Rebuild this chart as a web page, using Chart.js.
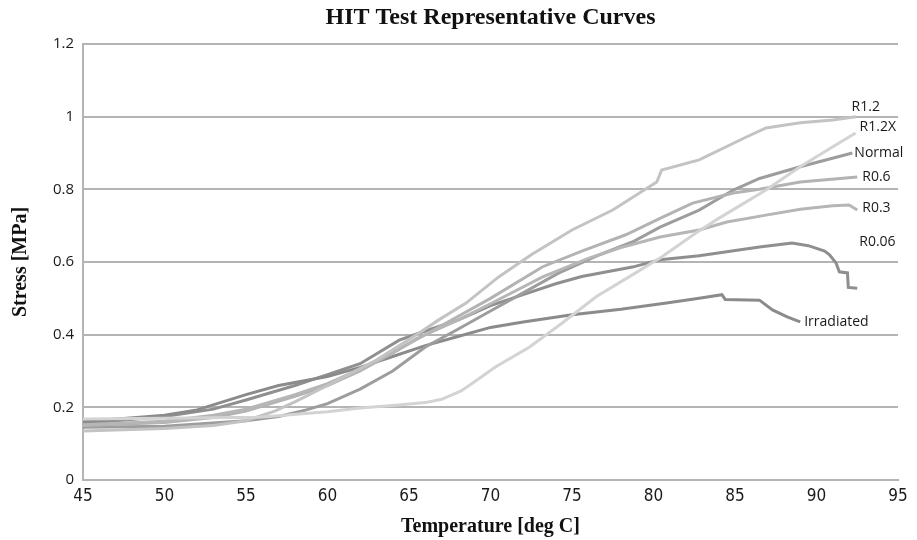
<!DOCTYPE html>
<html>
<head>
<meta charset="utf-8">
<title>HIT Test Representative Curves</title>
<script src="https://cdn.jsdelivr.net/npm/chart.js@4.4.1/dist/chart.umd.min.js"></script>
<style>
  html, body { margin: 0; padding: 0; background: #fff; }
  #wrap { width: 917px; height: 540px; position: relative; }
</style>
</head>
<body>
<div id="wrap"><canvas id="hitChart" width="917" height="540"></canvas></div>
<script>
// ---- data (temperature in deg C, stress in MPa) ----
const r12Temp   = [45, 50, 53, 55, 56.8, 58, 60, 63, 65.6, 66.8, 68.5, 70.5, 72.5, 75, 77.5, 80.2, 80.5, 82.8, 85.7, 86.9, 89, 91, 92.4];
const r12Stress = [0.135, 0.142, 0.15, 0.163, 0.19, 0.215, 0.26, 0.33, 0.404, 0.44, 0.487, 0.559, 0.62, 0.688, 0.743, 0.82, 0.853, 0.881, 0.944, 0.969, 0.983, 0.991, 1.0];

const r12xTemp   = [45, 50, 55.8, 60, 62, 64, 66, 67, 68.2, 69, 70.3, 72.4, 74.4, 76.5, 78.5, 80.5, 82.6, 84, 86.9, 89, 91, 92.4];
const r12xStress = [0.168, 0.17, 0.173, 0.188, 0.198, 0.205, 0.213, 0.222, 0.245, 0.27, 0.311, 0.366, 0.432, 0.505, 0.559, 0.614, 0.68, 0.72, 0.798, 0.862, 0.917, 0.955];

const normalTemp   = [45, 50, 55, 57, 58.7, 60, 62, 64, 66, 68, 70, 72, 74.2, 76.7, 78.7, 80.4, 82.8, 84.9, 86.5, 89, 92.2];
const normalStress = [0.145, 0.148, 0.163, 0.175, 0.193, 0.21, 0.25, 0.3, 0.366, 0.415, 0.465, 0.515, 0.57, 0.62, 0.655, 0.696, 0.743, 0.798, 0.83, 0.862, 0.9];

const r06Temp   = [45, 50, 53, 55, 58, 60, 62, 64, 65.6, 68, 70, 73.2, 75.6, 78.3, 80.4, 82.4, 84.9, 86.5, 89, 92.5];
const r06Stress = [0.15, 0.158, 0.172, 0.19, 0.23, 0.26, 0.3, 0.35, 0.39, 0.45, 0.5, 0.587, 0.63, 0.675, 0.72, 0.762, 0.79, 0.8, 0.82, 0.834];

const r03Temp   = [45, 50, 53, 55, 58, 60, 62, 64, 65.5, 68, 70, 73.2, 76, 78, 80.4, 82.8, 84.5, 86.9, 89, 91, 92, 92.5];
const r03Stress = [0.152, 0.162, 0.178, 0.195, 0.235, 0.265, 0.305, 0.35, 0.39, 0.44, 0.485, 0.559, 0.61, 0.64, 0.669, 0.688, 0.71, 0.729, 0.745, 0.755, 0.757, 0.743];

const r006Temp   = [45, 50, 53, 55, 58, 60, 62, 64.4, 66, 68, 70, 72, 74, 75.6, 78.7, 80.4, 82.8, 86.5, 88.5, 89.5, 90.5, 90.8, 91.2, 91.4, 91.9, 91.95, 92.5];
const r006Stress = [0.155, 0.175, 0.195, 0.22, 0.26, 0.29, 0.32, 0.385, 0.41, 0.44, 0.48, 0.51, 0.54, 0.56, 0.586, 0.606, 0.617, 0.641, 0.652, 0.645, 0.63, 0.62, 0.597, 0.573, 0.57, 0.53, 0.528];

const irrTemp   = [45, 50, 52, 55, 57, 60, 62, 64, 66, 68, 70, 72, 75, 78, 80.8, 82.8, 84.2, 84.4, 86.5, 87.3, 88.2, 89];
const irrStress = [0.16, 0.178, 0.193, 0.235, 0.26, 0.285, 0.31, 0.34, 0.37, 0.395, 0.42, 0.435, 0.455, 0.47, 0.487, 0.5, 0.51, 0.497, 0.495, 0.468, 0.449, 0.435];

const seriesNames = ['R1.2', 'R1.2X', 'Normal', 'R0.6', 'R0.3', 'R0.06', 'Irradiated'];
const xTicks = [45, 50, 55, 60, 65, 70, 75, 80, 85, 90, 95];
const yTicks = [0, 0.2, 0.4, 0.6, 0.8, 1, 1.2];

// ---- styles ----
const lineColors = ['#c3c3c3', '#d3d3d3', '#9d9d9d', '#b3b3b3', '#b6b6b6', '#8f8f8f', '#8b8b8b'];
// label offset from the last point of each curve (pixels)
const labelOffsets = [[-4, -10], [4, -6], [2, 0], [5, 0], [5, -2], [2, -46], [4, 0]];

function pairUp(xs, ys) {
    return xs.map((x, i) => ({ x: x, y: ys[i] }));
}

const allSeries = [
    pairUp(r12Temp, r12Stress),
    pairUp(r12xTemp, r12xStress),
    pairUp(normalTemp, normalStress),
    pairUp(r06Temp, r06Stress),
    pairUp(r03Temp, r03Stress),
    pairUp(r006Temp, r006Stress),
    pairUp(irrTemp, irrStress)
];

// draw order: light ones first, darker ones on top
const drawOrder = [1, 0, 4, 3, 2, 6, 5];

const datasets = drawOrder.map(i => ({
    label: seriesNames[i],
    data: allSeries[i],
    borderColor: lineColors[i],
    backgroundColor: lineColors[i],
    borderWidth: 3,
    pointRadius: 0,
    tension: 0,
    fill: false,
    _labelIndex: i
}));

// end-of-curve text labels
const endLabels = {
    id: 'endLabels',
    afterDatasetsDraw(chart) {
        const ctx = chart.ctx;
        ctx.save();
        ctx.font = '14px "Open Sans", "Noto Sans", sans-serif';
        ctx.fillStyle = '#1a1a1a';
        ctx.textAlign = 'left';
        ctx.textBaseline = 'middle';
        chart.data.datasets.forEach((ds, di) => {
            const meta = chart.getDatasetMeta(di);
            const last = meta.data[meta.data.length - 1];
            if (!last) return;
            const off = labelOffsets[ds._labelIndex];
            ctx.fillText(ds.label, last.x + off[0], last.y + off[1]);
        });
        ctx.restore();
    }
};

new Chart(document.getElementById('hitChart'), {
    type: 'line',
    data: { datasets: datasets },
    options: {
        responsive: false,
        animation: false,
        layout: { padding: { left: 0, right: 19, top: 0, bottom: 0 } },
        plugins: {
            legend: { display: false },
            tooltip: { enabled: false },
            title: {
                display: true,
                text: 'HIT Test Representative Curves',
                fullSize: false,
                color: '#111',
                font: { family: '"Liberation Serif", "DejaVu Serif", serif', size: 24, weight: 'bold', lineHeight: 1 },
                padding: { top: 6, bottom: 14 }
            }
        },
        scales: {
            x: {
                type: 'linear',
                min: 45,
                max: 95,
                afterBuildTicks: s => { s.ticks = xTicks.map(v => ({ value: v })); },
                afterFit: s => { s.height = 60; },
                grid: { display: false, drawTicks: false },
                border: { display: true, color: '#b4b4b4', width: 2 },
                ticks: {
                    color: '#1a1a1a',
                    padding: 6,
                    font: { family: '"Liberation Sans Narrow", "DejaVu Sans Condensed", sans-serif', size: 17 }
                },
                title: {
                    display: true,
                    text: 'Temperature [deg C]',
                    color: '#111',
                    font: { family: '"Liberation Serif", "DejaVu Serif", serif', size: 20, weight: 'bold' },
                    padding: { top: 0, bottom: 1 }
                }
            },
            y: {
                type: 'linear',
                min: 0,
                max: 1.2,
                afterBuildTicks: s => { s.ticks = yTicks.map(v => ({ value: v })); },
                afterFit: s => { s.width = 83; },
                grid: { color: '#b4b4b4', lineWidth: 2, drawTicks: false },
                border: { display: true, color: '#b4b4b4', width: 2 },
                ticks: {
                    color: '#1a1a1a',
                    padding: 9,
                    font: { family: '"Open Sans", "Noto Sans", sans-serif', size: 15 },
                    callback: v => String(Math.round(v * 10) / 10)
                },
                title: {
                    display: true,
                    text: 'Stress [MPa]',
                    color: '#111',
                    font: { family: '"Liberation Serif", "DejaVu Serif", serif', size: 20, weight: 'bold' },
                    padding: { top: 9, bottom: 0 }
                }
            }
        }
    },
    plugins: [endLabels]
});
</script>
</body>
</html>
